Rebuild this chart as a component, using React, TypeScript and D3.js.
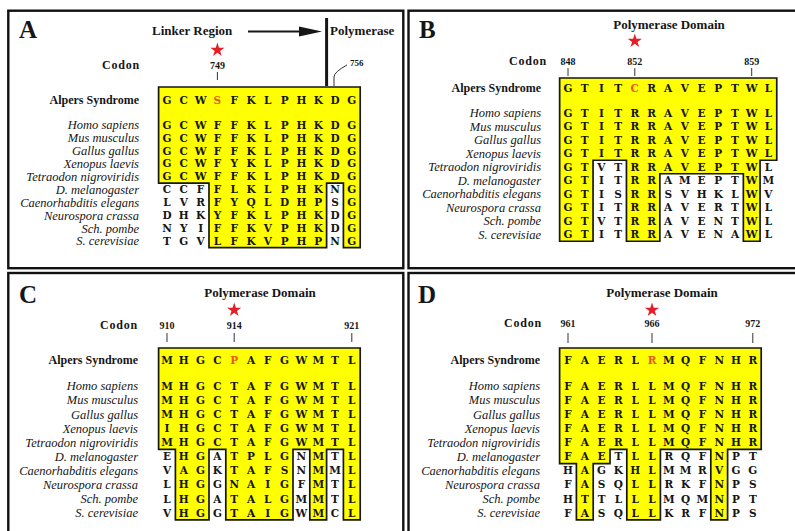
import React from "react";
import * as d3 from "d3";

const SPECIES = [
  "Homo sapiens",
  "Mus musculus",
  "Gallus gallus",
  "Xenopus laevis",
  "Tetraodon nigroviridis",
  "D. melanogaster",
  "Caenorhabditis elegans",
  "Neurospora crassa",
  "Sch. pombe",
  "S. cerevisiae",
];
const PATIENT_LABEL = "Alpers Syndrome";
const CODON_LABEL = "Codon";
const DOMAIN_TITLE = "Polymerase Domain";
const PANEL_LETTERS = ["A", "B", "C", "D"];

// Panel A
const A_TITLE_LEFT = "Linker Region";
const A_TITLE_RIGHT = "Polymerase";
const A_ALPERS = "GCWSFKLPHKDG";
const A_SEQS = ["GCWFFKLPHKDG", "GCWFFKLPHKDG", "GCWFFKLPHKDG", "GCWFYKLPHKDG", "GCWFFKLPHKDG", "CCFFLKLPHKNG", "LVRFYQLDHPSG", "DHKYFKLPHKDG", "NYIFFKVPHKDG", "TGVLFKVPHPNG"];
const A_MASK = ["111111111111", "111111111111", "111111111111", "111111111111", "111111111111", "000111111101", "000111111101", "000111111101", "000111111101", "000111111101"];
const A_CODONS = ["749"];
const A_CODON_COLS = [3];
const A_LEADER_CODON = "756";
const A_LEADER_COL = 10;
const A_MUT_COL = 3;

// Panel B
const B_ALPERS = "GTITCRAVEPTWL";
const B_SEQS = ["GTITRRAVEPTWL", "GTITRRAVEPTWL", "GTITRRAVEPTWL", "GTITRRAVEPTWL", "GTVTRRAVEPTWL", "GTITRRAMEPTWM", "GTISRRSVHKLWV", "GTITRRAVERTWL", "GTVTRRAVENTWL", "GTITRRAVENAWL"];
const B_MASK = ["1111111111111", "1111111111111", "1111111111111", "1111111111111", "1100111111110", "1100110000010", "1100110000010", "1100110000010", "1100110000010", "1100110000010"];
const B_CODONS = ["848", "852", "859"];
const B_CODON_COLS = [0, 4, 11];
const B_MUT_COL = 4;

// Panel C
const C_ALPERS = "MHGCPAFGWMTL";
const C_SEQS = ["MHGCTAFGWMTL", "MHGCTAFGWMTL", "MHGCTAFGWMTL", "IHGCTAFGWMTL", "MHGCTAFGWMTL", "EHGATPLGNMTL", "VAGKTAFSNMML", "LHGGNAIGFMTL", "LHGATALGMMTL", "VHGGTAIGWMCL"];
const C_MASK = ["111111111111", "111111111111", "111111111111", "111111111111", "111111111111", "011011110101", "011011110101", "011011110101", "011011110101", "011011110101"];
const C_CODONS = ["910", "914", "921"];
const C_CODON_COLS = [0, 4, 11];
const C_MUT_COL = 4;

// Panel D
const D_ALPERS = "FAERLRMQFNHR";
const D_SEQS = ["FAERLLMQFNHR", "FAERLLMQFNHR", "FAERLLMQFNHR", "FAERLLMQFNHR", "FAERLLMQFNHR", "FAETLLRQFNPT", "HAGKHLMMRVGG", "FASQLLRKFNPS", "HTTLLLMQMNPT", "FASQLLKRFNPS"];
const D_MASK = ["111111111111", "111111111111", "111111111111", "111111111111", "111111111111", "111011000100", "010011000100", "010011000100", "010011000100", "010011000100"];
const D_CODONS = ["961", "966", "972"];
const D_CODON_COLS = [0, 5, 11];
const D_MUT_COL = 5;

const SERIF = "'Liberation Serif', 'Times New Roman', serif";
const SEQ_FONT = "'DejaVu Serif', serif";
const YELLOW = "#ffff00";
const MUT_COLOR = "#e8571c";
const STAR_COLOR = "#e41e26";
const INK = "#161616";

type Panel = {
  alpers: string;
  seqs: string[];
  mask: string[];
  codons: string[];
  codonCols: number[];
  mutCol: number;
  col0: number;
  colStep: number;
  alpersY: number;
  homoY: number;
  rowStep: number;
  boxTop: number;
  labelRight: number;
  codonRight: number;
  codonY: number;
  tickY1: number;
  tickY2: number;
  starY: number;
};

function AlignmentPanel({ p }: { p: Panel }) {
  const n = p.alpers.length;
  const x = d3.scaleLinear().domain([0, n - 1]).range([p.col0, p.col0 + (n - 1) * p.colStep]);
  const y = d3.scaleLinear().domain([0, 9]).range([p.homoY, p.homoY + 9 * p.rowStep]);
  const rows: boolean[][] = [
    Array.from({ length: n }, () => true),
    ...p.mask.map((m) => m.split("").map((ch) => ch === "1")),
  ];
  const on = (r: number, c: number) => r >= 0 && r < rows.length && c >= 0 && c < n && rows[r][c];
  const mid = (p.alpersY + p.homoY) / 2;
  const rowTop = (r: number) => (r === 0 ? p.boxTop : r === 1 ? mid : y(r - 1) - p.rowStep / 2);
  const rowBot = (r: number) => (r === 0 ? mid : y(r - 1) + p.rowStep / 2);
  const colL = (c: number) => x(c) - p.colStep / 2;
  const colR = (c: number) => x(c) + p.colStep / 2;

  let fill = "";
  let edges = "";
  for (let r = 0; r < rows.length; r++) {
    for (let c = 0; c < n; c++) {
      if (!on(r, c)) continue;
      const l = colL(c), rr = colR(c), t = rowTop(r), b = rowBot(r);
      fill += `M${l},${t}H${rr}V${b}H${l}Z`;
      if (!on(r - 1, c)) edges += `M${l},${t}H${rr}`;
      if (!on(r + 1, c)) edges += `M${l},${b}H${rr}`;
      if (!on(r, c - 1)) edges += `M${l},${t}V${b}`;
      if (!on(r, c + 1)) edges += `M${rr},${t}V${b}`;
    }
  }
  const star = d3.symbol(d3.symbolStar, 62)() as string;

  return (
    <g>
      <path d={fill} fill={YELLOW} />
      <path d={edges} fill="none" stroke={INK} strokeWidth={1.7} strokeLinecap="square" />
      <text x={p.codonRight} y={p.codonY} dy="0.35em" textAnchor="end" fontFamily={SERIF} fontWeight="bold" fontSize={12} letterSpacing={0.8} fill={INK}>
        {CODON_LABEL}
      </text>
      {p.codons.map((lab, i) => (
        <g key={lab}>
          <text x={x(p.codonCols[i])} y={p.codonY} dy="0.35em" textAnchor="middle" fontFamily={SERIF} fontWeight="bold" fontSize={10} fill={INK}>
            {lab}
          </text>
          <line x1={x(p.codonCols[i])} x2={x(p.codonCols[i])} y1={p.tickY1} y2={p.tickY2} stroke="#333" strokeWidth={1} />
        </g>
      ))}
      <path d={star} transform={`translate(${x(p.mutCol)},${p.starY})`} fill={STAR_COLOR} />
      <text x={p.labelRight} y={p.alpersY} dy="0.35em" textAnchor="end" fontFamily={SERIF} fontWeight="bold" fontSize={12} fill={INK}>
        {PATIENT_LABEL}
      </text>
      {SPECIES.map((s, i) => (
        <text key={s} x={p.labelRight} y={y(i)} dy="0.35em" textAnchor="end" fontFamily={SERIF} fontStyle="italic" fontSize={12.5} fill={INK}>
          {s}
        </text>
      ))}
      {p.alpers.split("").map((ch, c) => (
        <text key={"a" + c} x={x(c)} y={p.alpersY} dy="0.36em" textAnchor="middle" fontFamily={SEQ_FONT} fontWeight="bold" fontSize={10.5} fill={c === p.mutCol ? MUT_COLOR : INK}>
          {ch}
        </text>
      ))}
      {p.seqs.map((seq, r) =>
        seq.split("").map((ch, c) => (
          <text key={r + "-" + c} x={x(c)} y={y(r)} dy="0.36em" textAnchor="middle" fontFamily={SEQ_FONT} fontWeight="bold" fontSize={10.5} fill={INK}>
            {ch}
          </text>
        ))
      )}
    </g>
  );
}

export default function App() {
  const W = 795, H = 531;
  const pA: Panel = {
    alpers: A_ALPERS, seqs: A_SEQS, mask: A_MASK, codons: A_CODONS, codonCols: A_CODON_COLS, mutCol: A_MUT_COL,
    col0: 167, colStep: 16.8, alpersY: 100, homoY: 125, rowStep: 12.9, boxTop: 87,
    labelRight: 139, codonRight: 140, codonY: 65, tickY1: 72, tickY2: 80, starY: 50,
  };
  const pB: Panel = {
    alpers: B_ALPERS, seqs: B_SEQS, mask: B_MASK, codons: B_CODONS, codonCols: B_CODON_COLS, mutCol: B_MUT_COL,
    col0: 568, colStep: 16.7, alpersY: 88, homoY: 113, rowStep: 13.5, boxTop: 78,
    labelRight: 541, codonRight: 547, codonY: 61, tickY1: 68, tickY2: 76, starY: 41,
  };
  const pC: Panel = {
    alpers: C_ALPERS, seqs: C_SEQS, mask: C_MASK, codons: C_CODONS, codonCols: C_CODON_COLS, mutCol: C_MUT_COL,
    col0: 167, colStep: 16.8, alpersY: 360, homoY: 386, rowStep: 14.1, boxTop: 348,
    labelRight: 138, codonRight: 138, codonY: 325, tickY1: 333, tickY2: 342, starY: 310,
  };
  const pD: Panel = {
    alpers: D_ALPERS, seqs: D_SEQS, mask: D_MASK, codons: D_CODONS, codonCols: D_CODON_COLS, mutCol: D_MUT_COL,
    col0: 568, colStep: 16.8, alpersY: 360, homoY: 386, rowStep: 14.1, boxTop: 348,
    labelRight: 540, codonRight: 542, codonY: 323, tickY1: 333, tickY2: 343, starY: 310,
  };
  const xA = d3.scaleLinear().domain([0, A_ALPERS.length - 1]).range([pA.col0, pA.col0 + (A_ALPERS.length - 1) * pA.colStep]);
  const divider = (xA(A_LEADER_COL - 1) + xA(A_LEADER_COL)) / 2;
  const leaderX = xA(A_LEADER_COL) - 1;

  const frames = [
    { x: 8.3, y: 10.7, w: 395, h: 257.5 },
    { x: 408.5, y: 10.7, w: 392, h: 257.5 },
    { x: 8.3, y: 273, w: 395, h: 262 },
    { x: 408.5, y: 273, w: 392, h: 262 },
  ];
  const letterPos = [
    { x: 19, y: 38 },
    { x: 419, y: 38 },
    { x: 19, y: 303 },
    { x: 418, y: 303 },
  ];

  return (
    <div style={{ position: "absolute", left: 0, top: 0, width: W, height: H, overflow: "hidden", background: "#fff" }}>
      <svg width={W} height={H} viewBox={`0 0 ${W} ${H}`} style={{ display: "block" }}>
        <rect width={W} height={H} fill="#fff" />
        {frames.map((f, i) => (
          <rect key={i} x={f.x} y={f.y} width={f.w} height={f.h} fill="none" stroke="#111" strokeWidth={2.4} />
        ))}
        {PANEL_LETTERS.map((l, i) => (
          <text key={l} x={letterPos[i].x} y={letterPos[i].y} fontFamily={SERIF} fontWeight="bold" fontSize={25} fill={INK}>
            {l}
          </text>
        ))}
        <text x={152} y={35} fontFamily={SERIF} fontWeight="bold" fontSize={13} fill={INK}>{A_TITLE_LEFT}</text>
        <line x1={248} x2={302} y1={31.5} y2={31.5} stroke={INK} strokeWidth={2} />
        <path d={`M299,26.5L322,31.5L299,36.5Z`} fill={INK} />
        <line x1={divider} x2={divider} y1={18} y2={86} stroke={INK} strokeWidth={3} />
        <text x={330} y={35} fontFamily={SERIF} fontWeight="bold" fontSize={13} fill={INK}>{A_TITLE_RIGHT}</text>
        <path d={`M${leaderX},86V77Q${leaderX},72 ${leaderX + 13},65`} fill="none" stroke="#333" strokeWidth={1} />
        <text x={350} y={66} fontFamily={SERIF} fontWeight="bold" fontSize={9} fill={INK}>{A_LEADER_CODON}</text>
        <text x={669} y={29} textAnchor="middle" fontFamily={SERIF} fontWeight="bold" fontSize={13} fill={INK}>{DOMAIN_TITLE}</text>
        <text x={260} y={297} textAnchor="middle" fontFamily={SERIF} fontWeight="bold" fontSize={13} fill={INK}>{DOMAIN_TITLE}</text>
        <text x={662} y={297} textAnchor="middle" fontFamily={SERIF} fontWeight="bold" fontSize={13} fill={INK}>{DOMAIN_TITLE}</text>
        <AlignmentPanel p={pA} />
        <AlignmentPanel p={pB} />
        <AlignmentPanel p={pC} />
        <AlignmentPanel p={pD} />
      </svg>
    </div>
  );
}
